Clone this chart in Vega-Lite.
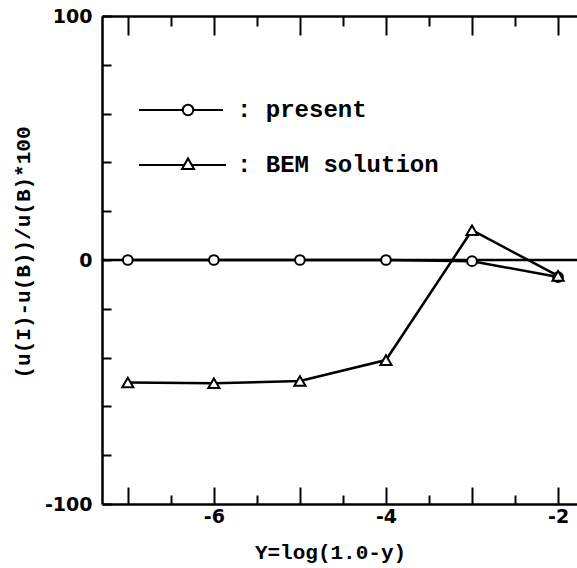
{
  "$schema": "https://vega.github.io/schema/vega-lite/v6.json",
  "width": 475,
  "height": 488,
  "autosize": {"type": "none"},
  "padding": {"left": 102, "top": 16, "right": 0, "bottom": 64},
  "background": "white",
  "config": {
    "view": {"stroke": null},
    "axis": {
      "domainColor": "black", "domainWidth": 2.5, "tickColor": "black", "tickWidth": 2,
      "labelColor": "black", "titleColor": "black", "grid": false,
      "labelFont": "DejaVu Sans", "labelFontSize": 19, "labelFontWeight": "bold",
      "titleFont": "Liberation Mono", "titleFontSize": 21, "titleFontWeight": "bold",
      "labelFlush": false, "labelOverlap": false
    }
  },
  "data": {"values": [
    {"series": "present", "Y": -7, "error": 0},
    {"series": "present", "Y": -6, "error": 0},
    {"series": "present", "Y": -5, "error": 0},
    {"series": "present", "Y": -4, "error": 0},
    {"series": "present", "Y": -3, "error": -0.5},
    {"series": "present", "Y": -2, "error": -7},
    {"series": "BEM solution", "Y": -7, "error": -50.2},
    {"series": "BEM solution", "Y": -6, "error": -50.5},
    {"series": "BEM solution", "Y": -5, "error": -49.6},
    {"series": "BEM solution", "Y": -4, "error": -41},
    {"series": "BEM solution", "Y": -3, "error": 12.2},
    {"series": "BEM solution", "Y": -2, "error": -6.5}
  ]},
  "layer": [
    {
      "data": {"values": [{"level": 0}]},
      "mark": {"type": "rule", "stroke": "black", "strokeWidth": 2.5},
      "encoding": {
        "y": {"field": "level", "type": "quantitative", "scale": {"domain": [-100, 100], "nice": false, "zero": false}, "axis": null}
      }
    },
    {
      "mark": {"type": "line", "stroke": "black", "strokeWidth": 2.5},
      "encoding": {
        "x": {"field": "Y", "type": "quantitative", "scale": {"domain": [-7.3, -1.78], "nice": false, "zero": false},
          "axis": {
            "orient": "bottom",
            "values": [-7, -6.5, -6, -5.5, -5, -4.5, -4, -3.5, -3, -2.5, -2],
            "tickSize": {"condition": {"test": "datum.value % 1 === 0", "value": -17}, "value": -9},
            "labelExpr": "datum.value % 2 === 0 ? '-' + abs(datum.value) : ''",
            "labelPadding": 20,
            "title": "Y=log(1.0-y)",
            "titleX": 228, "titleY": 48, "titleBaseline": "middle", "titleAlign": "center"
          }
        },
        "y": {"field": "error", "type": "quantitative", "scale": {"domain": [-100, 100], "nice": false, "zero": false},
          "axis": {
            "orient": "left",
            "values": [-100, -80, -60, -40, -20, 0, 20, 40, 60, 80, 100],
            "tickSize": -9,
            "labelExpr": "(datum.value === 100 || datum.value === 0 || datum.value === -100) ? '' + datum.value : ''",
            "labelPadding": 19,
            "title": "(u(I)-u(B))/u(B)*100",
            "titleX": -79, "titleY": 236, "titleAngle": -90, "titleBaseline": "middle", "titleAlign": "center"
          }
        },
        "detail": {"field": "series", "type": "nominal"}
      }
    },
    {
      "transform": [{"filter": "datum.series === 'present'"}],
      "mark": {"type": "point", "shape": "circle", "filled": true, "fill": "white", "stroke": "black", "strokeWidth": 2, "opacity": 1, "size": 95},
      "encoding": {
        "x": {"field": "Y", "type": "quantitative", "scale": {"domain": [-7.3, -1.78], "nice": false, "zero": false},
          "axis": {
            "orient": "top",
            "values": [-7, -6.5, -6, -5.5, -5, -4.5, -4, -3.5, -3, -2.5, -2],
            "tickSize": {"condition": {"test": "datum.value % 1 === 0", "value": -19}, "value": -10},
            "labels": false,
            "title": null
          }
        },
        "y": {"field": "error", "type": "quantitative", "scale": {"domain": [-100, 100], "nice": false, "zero": false}, "axis": null}
      }
    },
    {
      "transform": [{"filter": "datum.series === 'BEM solution'"}],
      "mark": {"type": "point", "shape": "triangle-up", "filled": true, "fill": "white", "stroke": "black", "strokeWidth": 2, "opacity": 1, "size": 125},
      "encoding": {
        "x": {"field": "Y", "type": "quantitative", "scale": {"domain": [-7.3, -1.78], "nice": false, "zero": false}, "axis": null},
        "y": {"field": "error", "type": "quantitative", "scale": {"domain": [-100, 100], "nice": false, "zero": false}, "axis": null}
      }
    },
    {
      "mark": {"type": "point", "filled": false, "color": "black", "strokeWidth": 2, "opacity": 0, "size": 900},
      "encoding": {
        "x": {"field": "Y", "type": "quantitative", "scale": {"domain": [-7.3, -1.78], "nice": false, "zero": false}, "axis": null},
        "y": {"field": "error", "type": "quantitative", "scale": {"domain": [-100, 100], "nice": false, "zero": false}, "axis": null},
        "shape": {"field": "series", "type": "nominal",
          "scale": {"domain": ["present", "BEM solution"], "range": [
            "M-2.8,0H0.12M0.82,0H2.8M0.12,0A0.35,0.35 0 1,1 0.82,0A0.35,0.35 0 1,1 0.12,0Z",
            "M-2.8,0H0.22M0.72,0H3M0.47,-0.44L0.87,0.27L0.07,0.27Z"
          ]},
          "legend": {
            "orient": "none", "legendX": 63, "legendY": 78, "title": null, "padding": 0,
            "symbolSize": 900, "labelOffset": 40, "rowPadding": 27, "labelLimit": 0,
            "labelFont": "Liberation Mono", "labelFontSize": 24, "labelFontWeight": "bold", "labelColor": "black",
            "labelExpr": "': ' + datum.label",
            "symbolStrokeWidth": 2, "symbolStrokeColor": "black", "symbolOpacity": 1
          }
        }
      }
    }
  ],
  "resolve": {"axis": {"x": "independent", "y": "independent"}}
}
